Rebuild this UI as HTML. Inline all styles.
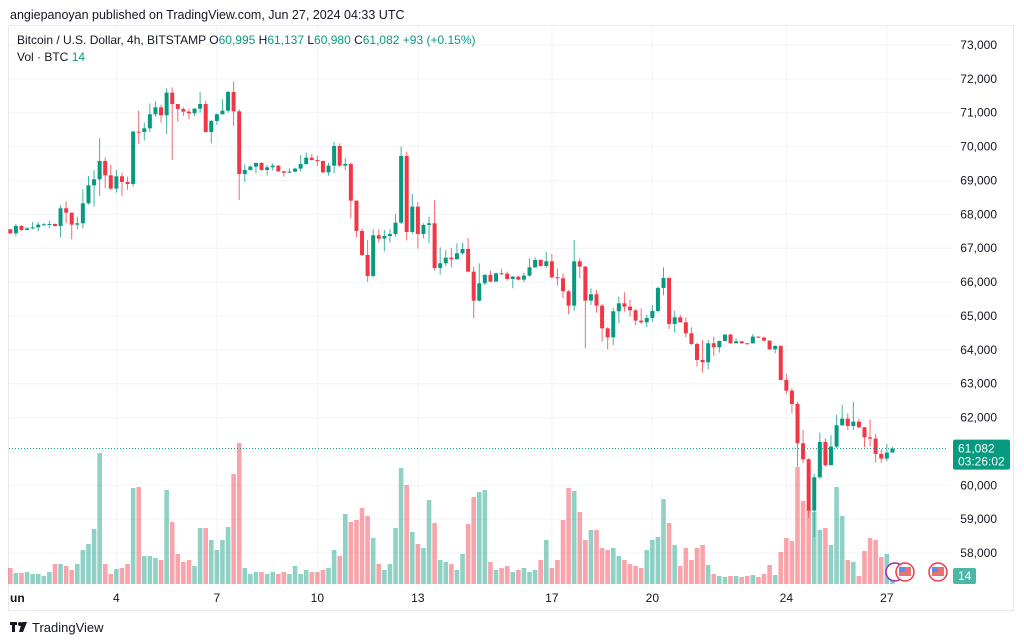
<!DOCTYPE html>
<html><head><meta charset="utf-8">
<style>
html,body{margin:0;padding:0;background:#fff;width:1024px;height:643px;overflow:hidden;font-family:"Liberation Sans",sans-serif;}
svg{position:absolute;left:0;top:0}
</style></head>
<body>
<svg id="chart" width="1024" height="643">
<text x="10" y="19" font-size="12.5" fill="#131722">angiepanoyan published on TradingView.com, Jun 27, 2024 04:33 UTC</text>
<rect x="8.5" y="25.5" width="1005" height="585" fill="none" stroke="#e8eaef"/>
<g id="grid"></g>
<g id="vol"></g>
<g id="candles"></g>
<g id="axes"></g>
<text x="17" y="44" font-size="12" fill="#131722">Bitcoin / U.S. Dollar, 4h, BITSTAMP  O<tspan fill="#089981">60,995</tspan>  H<tspan fill="#089981">61,137</tspan>  L<tspan fill="#089981">60,980</tspan>  C<tspan fill="#089981">61,082</tspan>  <tspan fill="#089981">+93 (+0.15%)</tspan></text>
<text x="17" y="61" font-size="12" fill="#131722">Vol · BTC  <tspan fill="#089981">14</tspan></text>
<g>
<rect x="10" y="622" width="7" height="3" fill="#131722"/><rect x="12" y="622" width="3" height="10" fill="#131722"/>
<circle cx="20" cy="624" r="2" fill="#131722"/><path d="M22 622 L27 622 L23 632 L19 632 Z" fill="#131722"/>
<text x="32" y="632" font-size="13" fill="#131722">TradingView</text>
</g>
</svg>
<script>
const closes=[67440,67657,67539,67588,67617,67696,67706,67716,67657,68178,68050,67696,67736,68326,68857,69035,69576,69153,68759,69123,68956,68897,70442,70432,70540,70953,71160,70924,71593,71258,71111,71032,70983,71121,71258,70432,70757,70953,71062,71613,71042,69192,69310,69409,69517,69310,69389,69438,69271,69231,69261,69350,69487,69674,69605,69576,69241,69438,70019,69438,69487,68405,67510,66801,66181,67382,67283,67362,67421,67755,69723,67480,68228,67421,67687,67736,66417,66555,66722,66673,66850,66978,66309,65453,65965,66211,66014,66260,66250,66093,66161,66073,66191,66437,66653,66476,66614,66142,66112,65728,65305,66614,66457,65453,65640,65305,64636,64371,65138,65374,65276,65167,64863,64813,64941,65148,65827,66122,64764,64961,64813,64489,64174,63701,63633,64194,64075,64262,64449,64193,64252,64193,64190,64390,64360,64272,64016,64115,63111,62796,62402,61241,60769,59253,60238,61281,60592,61143,61773,61969,61753,61881,61714,61418,61379,60926,60788,60966,61082];
const highs=[67560,67716,67680,67620,67775,67775,67740,67814,67730,68277,68385,68050,67932,68739,69133,69310,70245,69684,69467,69310,69231,69113,70471,71061,70707,71278,71337,71239,71721,71750,71258,71160,71121,71140,71613,71357,70786,70983,71396,71652,71927,71100,69478,69440,69527,69540,69458,69507,69460,69291,69359,69380,69753,69822,69783,69733,69590,69527,70137,70097,69655,69527,68405,67578,67244,67559,67559,67539,67559,68011,69999,69851,68602,68366,67736,67933,68425,67027,66949,67008,67146,67165,67303,66457,66555,66240,66339,66280,66388,66309,66181,66180,66280,66703,66732,66670,66899,66831,66407,66260,65768,67244,66703,66476,65817,65768,65355,64666,65237,65571,65699,65473,65197,65227,65040,65325,65866,66437,66142,65148,65030,64961,64666,64213,64292,64292,64390,64272,64470,64470,64341,64260,64200,64469,64400,64390,64280,64134,64130,63288,62865,62461,61635,60800,60336,61556,61389,61487,62078,62373,62127,62461,61969,61714,61950,61517,61064,61222,61137];
const lows=[67420,67362,67500,67540,67558,67500,67660,67598,67640,67322,67736,67263,67558,67578,68287,68228,68543,68769,68720,68641,68543,68720,68818,70078,70176,70432,70884,70707,70373,69605,70737,70904,70806,70904,71003,70412,70097,70638,71030,71003,70609,68424,68946,69290,69212,69290,69143,69291,69250,69113,69222,69240,69261,69458,69586,69428,69220,69143,69212,69389,69310,67883,67322,66771,66014,66142,67165,66909,67165,67342,67716,67224,67421,66988,67293,67145,66339,66221,66476,66437,66673,66811,66290,64931,65424,65915,65994,66014,66211,66043,65817,66050,65994,66161,66417,66460,66417,66102,65896,65532,65050,65148,66112,64046,65325,65099,64243,64016,64134,64784,65128,64981,64725,64764,64666,64833,65109,65610,64617,64508,64803,64371,64144,63505,63328,63426,63820,63918,64250,64180,64193,64180,64170,64193,64350,64252,64000,63898,63100,62698,62127,60552,60651,59037,58476,60178,60552,60611,61094,61753,61635,61635,61684,61123,61143,60670,60670,60710,60980];
const firstOpen=67560;
const volumes=[16,11,11,12,10,10,8,12,20,20,18,14,20,34,40,55,131,20,10,15,16,20,96,97,28,28,26,24,94,62,30,22,24,18,56,56,44,34,44,57,110,141,16,10,12,12,10,12,10,12,10,18,10,14,12,12,14,16,34,28,70,62,64,76,68,46,20,14,20,56,116,99,52,40,36,84,61,24,22,20,14,30,60,87,92,94,22,14,16,18,12,14,16,12,14,24,44,16,24,64,96,93,72,44,54,54,36,34,36,28,24,20,18,16,34,44,47,85,61,39,18,36,24,36,39,19,10,8,7,8,8,7,8,9,7,10,19,9,32,46,43,117,83,75,72,54,56,39,97,68,24,22,8,33,46,44,27,30,4].map(v=>v*2);
const priceTicks=[73000,72000,71000,70000,69000,68000,67000,66000,65000,64000,63000,62000,61000,60000,59000,58000];
const dayLabels=["un","4","7","10","13","17","20","24","27"];
const dayCandle=[2,20,38,56,74,98,116,140,158];

const NS="http://www.w3.org/2000/svg";
const X=i=>10.3+i*5.583;
const Y=p=>45+(73000-p)*0.03387;
const VY=v=>584-v*0.5;
function mk(tag,attrs,parent){const e=document.createElementNS(NS,tag);for(const k in attrs)e.setAttribute(k,attrs[k]);parent.appendChild(e);return e;}
const G=id=>document.getElementById(id);
const grid=G('grid'),axes=G('axes'),vol=G('vol'),cg=G('candles');

priceTicks.forEach(p=>{
  const l=mk('line',{x1:9,x2:953,y1:Y(p),y2:Y(p),stroke:'#f0f3fa','stroke-width':1},grid);
  
  
  if(Math.abs(p-61000)<1) return;
  const t=mk('text',{x:997,y:Y(p)+4,'font-size':12,fill:'#131722','text-anchor':'end'},axes);
  t.textContent=p.toLocaleString('en-US');
  
  
});
dayLabels.forEach((d,k)=>{
  const x=X(dayCandle[k]-1);
  if(k>0){const l=mk('line',{x1:x,x2:x,y1:26,y2:588,stroke:'#f0f3fa','stroke-width':1},grid);
  
  }
  const t=mk('text',{x:k==0?10:x,y:602,'font-size':12,fill:'#131722','text-anchor':k==0?'start':'middle','font-weight':k==0?'bold':'normal'},axes);
  t.textContent=d;
  
  
});

for(let i=0;i<closes.length;i++){
  const o=i==0?firstOpen:closes[i-1],c=closes[i];
  const up=c>=o,col=up?'#089981':'#f23645',vcol=up?'rgba(8,153,129,0.45)':'rgba(242,54,69,0.45)';
  const x=X(i);
  const vb=mk('rect',{x:x-2.3,y:VY(volumes[i]),width:4.6,height:584-VY(volumes[i]),fill:vcol},vol);
  
  
  const w=mk('line',{x1:x,x2:x,y1:Y(highs[i]),y2:Y(lows[i]),stroke:col,'stroke-width':1,opacity:0.75},cg);
  
  
  const top=Y(Math.max(o,c)),h=Math.max(1,Y(Math.min(o,c))-top);
  const b=mk('rect',{x:x-2,y:top,width:4,height:h,fill:col},cg);
  
  
}
const last=closes[closes.length-1];
const pl=mk('line',{x1:9,x2:947,y1:Y(last),y2:Y(last),stroke:'#089981','stroke-width':1,'stroke-dasharray':'1 2'},axes);


const pb=mk('rect',{x:953,y:Y(last)-9,width:57,height:30,fill:'#089981',rx:2},axes);


const t1=mk('text',{x:958,y:Y(last)+4,'font-size':12,fill:'#fff'},axes);t1.textContent='61,082';


const t2=mk('text',{x:958,y:Y(last)+17,'font-size':12,fill:'#fff'},axes);t2.textContent='03:26:02';


const vbx=mk('rect',{x:953,y:568,width:23,height:16,fill:'#4db6a4',rx:2},axes);


const vt=mk('text',{x:958,y:580,'font-size':12,fill:'#fff'},axes);vt.textContent='14';


[[895,'#9c27b0'],[905,'#f23645'],[938,'#f23645']].forEach(([cx,c])=>{
  const g=mk('g',{},axes);
  
  
  mk('circle',{cx:cx,cy:572,r:9,fill:'#fff',stroke:c,'stroke-width':1.5},g);
  if(c!='#9c27b0'){mk('rect',{x:cx-6,y:567,width:12,height:9,fill:'#e57373'},g);mk('rect',{x:cx-6,y:567,width:6,height:5,fill:'#5b8def'},g);}
});
</script>
</body></html>
